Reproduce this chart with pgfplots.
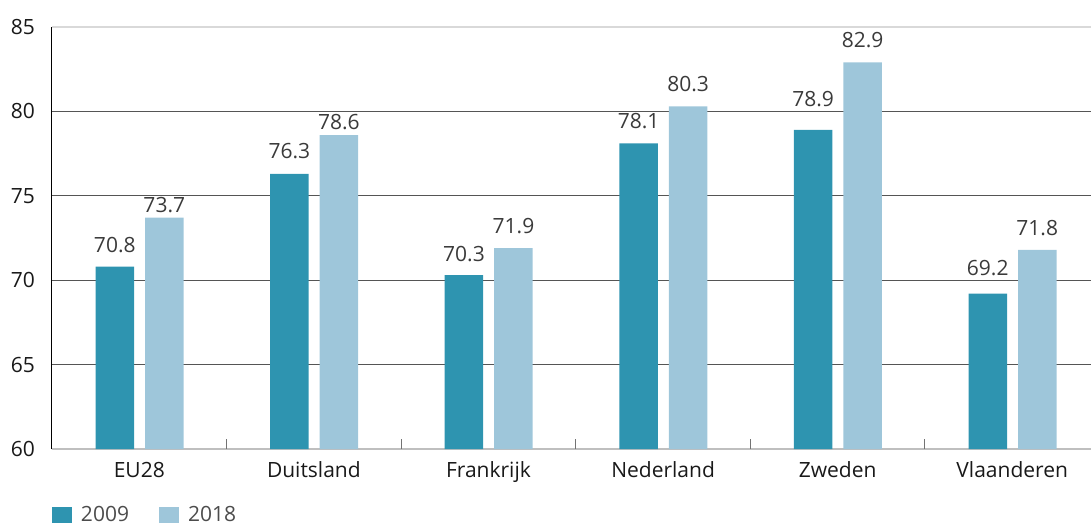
\documentclass[border=0pt]{standalone}
\usepackage{pgfplots}
\pgfplotsset{compat=1.18}
\usepackage{pgfplotstable}
\usepackage{fontspec}
\setmainfont{Open Sans}
\definecolor{c09}{HTML}{2E94B0}
\definecolor{c18}{HTML}{9EC6DA}
\definecolor{lbl}{HTML}{3A3A3A}
\definecolor{grd}{HTML}{555555}
\pgfplotstableread{
x y09 o09 y18 o18
0 70.8 14 73.7 5
1 76.3 15 78.6 6
2 70.3 14 71.9 15
3 78.1 15 80.3 15
4 78.9 23 82.9 15
5 69.2 18 71.8 14
}\datatable
\begin{document}
\begin{tikzpicture}
\clip (-52pt,-74pt) rectangle (1039pt,449pt);
\begin{axis}[
  at={(0,0)}, anchor=south west,
  scale only axis, width=1047.6pt, height=422pt,
  xmin=-0.5, xmax=5.5, ymin=60, ymax=85,
  axis x line*=bottom, axis y line*=left,
  x axis line style={color=black!25, line width=1.2pt, -},
  y axis line style={color=black, line width=1pt, -},
  xtick={0,1,2,3,4,5},
  xticklabels={EU28,Duitsland,Frankrijk,Nederland,Zweden,Vlaanderen},
  major tick length=0pt,
  extra x ticks={0.5,1.5,2.5,3.5,4.5},
  extra x tick labels={},
  extra x tick style={major tick length=10pt, xtick align=inside, tick style={color=black!55, line width=1pt}},
  ytick={60,65,70,75,80},
  extra y ticks={85},
  extra y tick style={grid style={color=black!15, line width=1.5pt}},
  ymajorgrids,
  grid style={color=grd, line width=1pt},
  /pgf/number format/assume math mode=true,
  ticklabel style={font=\fontsize{21}{25}\selectfont},
  yticklabel style={anchor=east, inner sep=0pt, xshift=-17pt, text=black!90},
  xticklabel style={anchor=base, inner sep=0pt, yshift=-28pt, text=black!90},
  ybar, bar width=38.5pt,
  nodes near coords={\pgfmathprintnumber[fixed,fixed zerofill,precision=1,assume math mode=true]{\pgfplotspointmeta}},
  nodes near coords style={font=\fontsize{21}{25}\selectfont, text=lbl, anchor=base, inner sep=0pt, yshift=\labeloff pt},
  legend columns=2,
  legend style={draw=none, fill=none, inner sep=0pt, outer sep=0pt,
    at={(rel axis cs:0,0)}, anchor=west, yshift=-66pt,
    font=\fontsize{21}{25}\selectfont, text=black!70,
    nodes={inner sep=0pt, anchor=west},
    /tikz/every even column/.append style={column sep=30pt}},
  legend image code/.code={\fill[#1] (0pt,-8pt) rectangle (20pt,8pt); \path (29pt,0pt);},
]
\addplot[fill=c09, draw=none, bar shift=-24.5pt, visualization depends on={\thisrow{o09} \as \labeloff}] table[x=x, y=y09] {\datatable};
\addplot[fill=c18, draw=none, bar shift=25pt, visualization depends on={\thisrow{o18} \as \labeloff}] table[x=x, y=y18] {\datatable};
\legend{2009,2018}
\end{axis}
\end{tikzpicture}
\end{document}
